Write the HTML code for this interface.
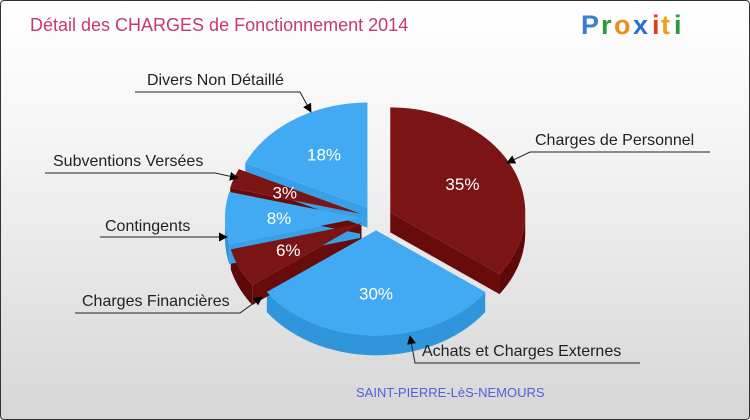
<!DOCTYPE html>
<html><head><meta charset="utf-8"><style>
html,body{margin:0;padding:0;width:750px;height:420px;overflow:hidden;background:#fff}
#wrap{position:absolute;left:0;top:0;width:748px;height:418px;border:1px solid #333;border-radius:4px;background:linear-gradient(#ffffff 0%,#f4f4f4 35%,#d6d6d6 100%)}
svg{position:absolute;left:0;top:0}
text{font-family:"Liberation Sans",sans-serif}
</style></head><body>
<div id="wrap"></div>
<svg id="chart" width="750" height="420">
<defs><marker id="arr" viewBox="0 0 10 10" refX="9" refY="5" markerWidth="9" markerHeight="9" orient="auto-start-reverse"><path d="M0,0 L10,5 L0,10 z" fill="#000"/></marker></defs>
<text x="30" y="31" font-size="18" fill="#c8386e">Détail des CHARGES de Fonctionnement 2014</text>
<g font-size="27" font-weight="bold">
<text x="581" y="34" fill="#3a7fd0">P</text><text x="601" y="34" fill="#2a9a3a">r</text><text x="614" y="34" fill="#f08a20">o</text><text x="633" y="34" fill="#2a6fd0">x</text><text x="652" y="34" fill="#e03a20">i</text><text x="661" y="34" fill="#f0a020">t</text><text x="674" y="34" fill="#2a9a3a">i</text>
</g>
<g id="slices"></g>
<g id="labels"></g>
<text x="356" y="397" font-size="13" fill="#5060e0">SAINT-PIERRE-LèS-NEMOURS</text>
</svg>
<script>
const categories=["Charges de Personnel","Achats et Charges Externes","Charges Financières","Contingents","Subventions Versées","Divers Non Détaillé"];
const values=[35,30,6,8,3,18];
const valueLabels=["35%","30%","6%","8%","3%","18%"];
const NS="http://www.w3.org/2000/svg";
const cx=376,cy=218,rx=135,ry=105,depth=20,expl=16;
const tops=["#7b1515","#42aaf2"],sides=["#680b0b","#37a0e6"],walls=["#5e0909","#3096dc"];
const g=document.getElementById('slices');
const total=values.reduce((a,b)=>a+b,0);
function pt(x0,y0,t,dy){return [x0+rx*Math.cos(t),y0+ry*Math.sin(t)+(dy||0)];}
function mk(tag,attrs){const e=document.createElementNS(NS,tag);for(const k in attrs)e.setAttribute(k,attrs[k]);return e;}
let a=-Math.PI/2;const sl=[];
values.forEach((v,i)=>{const a1=a+v/total*2*Math.PI;const m=(a+a1)/2;sl.push({a0:a,a1,m,x:cx+expl*Math.cos(m),y:cy+expl*0.77*Math.sin(m),c:i%2});a=a1;});
const sideG=mk('g',{}),topG=mk('g',{});g.appendChild(sideG);g.appendChild(topG);
sl.forEach((s,i)=>{
 const col=s.c;
 [[s.a0,Math.cos(s.a0)<-1e-6],[s.a1,Math.cos(s.a1)>1e-6]].forEach(([t,vis])=>{if(!vis)return;const p=pt(s.x,s.y,t);
  const f=mk('polygon',{points:`${s.x},${s.y} ${p[0]},${p[1]} ${p[0]},${p[1]+depth} ${s.x},${s.y+depth}`,fill:sides[col]});
  
  
  sideG.appendChild(f);});
 for(let k=-1;k<=1;k++){const lo=Math.max(s.a0,k*2*Math.PI),hi=Math.min(s.a1,k*2*Math.PI+Math.PI);
  if(hi>lo){const n=30;let d="";for(let j=0;j<=n;j++){const t=lo+(hi-lo)*j/n;const p=pt(s.x,s.y,t);d+=(j?"L":"M")+p[0]+","+p[1];}
   for(let j=n;j>=0;j--){const t=lo+(hi-lo)*j/n;const p=pt(s.x,s.y,t,depth);d+="L"+p[0]+","+p[1];}
   const w=mk('path',{d:d+"Z",fill:walls[col]});
   
   
   sideG.appendChild(w);}}
 const n=60;let d=`M${s.x},${s.y}`;for(let j=0;j<=n;j++){const t=s.a0+(s.a1-s.a0)*j/n;const p=pt(s.x,s.y,t);d+="L"+p[0]+","+p[1];}
 const tp=mk('path',{d:d+"Z",fill:tops[col]});
 
 
 topG.appendChild(tp);
 const lp=[s.x+rx*0.6*Math.cos(s.m),s.y+ry*0.6*Math.sin(s.m)+6];
 const tx=mk('text',{x:lp[0],y:lp[1],'font-size':17,fill:'#fff','text-anchor':'middle'});
 tx.textContent=valueLabels[i];
 
 
 topG.appendChild(tx);
});
const lab=document.getElementById('labels');
const labSpec=[
 {tx:535,ty:145,line:"M710,152 L530,152 L507,163"},
 {tx:422,ty:356,line:"M640,363 L415,363 L410,336"},
 {tx:82,ty:306,line:"M75,313 L240,313 L262,297"},
 {tx:105,ty:231,line:"M100,237 L215,237 L227,237"},
 {tx:53,ty:166,line:"M45,173 L215,173 L238,178"},
 {tx:147,ty:85,line:"M135,92 L300,92 L311,112"}];
labSpec.forEach((L,i)=>{
 const t=mk('text',{x:L.tx,y:L.ty,'font-size':16,fill:'#222'});t.textContent=categories[i];
 
 
 lab.appendChild(t);
 const p=mk('path',{d:L.line,stroke:'#222','stroke-width':1,fill:'none','marker-end':'url(#arr)'});
 
 
 lab.appendChild(p);
});
</script>
</body></html>
